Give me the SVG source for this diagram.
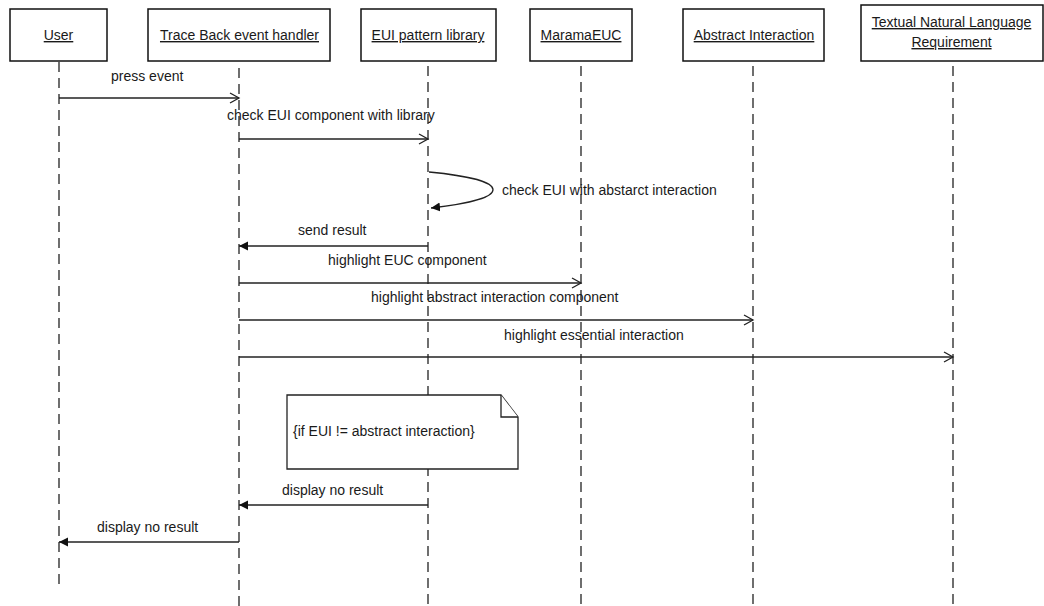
<svg xmlns="http://www.w3.org/2000/svg" width="1044" height="606" viewBox="0 0 1044 606">
  <style>
    text { font-family: "Liberation Sans", Arial, sans-serif; font-size: 14px; fill: #1a1a1a; }
    .head { text-anchor: middle; text-decoration: underline; }
    .box { fill: #ffffff; stroke: #111111; stroke-width: 1.5; }
    .life { stroke: #222222; stroke-width: 1.3; stroke-dasharray: 10 6; fill: none; }
    .msg { stroke: #222222; stroke-width: 1.3; fill: none; }
    .call { marker-end: url(#open); }
    .ret { marker-end: url(#solid); }
    .note { fill: #ffffff; stroke: #222222; stroke-width: 1.3; }
  </style>
  <defs>
    <marker id="open" markerUnits="userSpaceOnUse" markerWidth="12" markerHeight="12" refX="10" refY="6" orient="auto">
      <path d="M1,1 L10,6 L1,11" fill="none" stroke="#222222" stroke-width="1.3"/>
    </marker>
    <marker id="solid" markerUnits="userSpaceOnUse" markerWidth="10" markerHeight="10" refX="9" refY="5" orient="auto">
      <path d="M0,0.5 L9,5 L0,9.5 Z" fill="#111111"/>
    </marker>
  </defs>
  <rect width="1044" height="606" fill="#ffffff"/>

  <!-- lifeline heads and their dashed lines -->
  <g id="user">
    <rect class="box" x="10" y="9" width="97" height="52"/>
    <text class="head" x="58.5" y="40">User</text>
    <line class="life" x1="59" y1="62" x2="59" y2="590"/>
  </g>
  <g id="trace-back-handler">
    <rect class="box" x="148" y="9" width="182" height="52"/>
    <text class="head" x="239.5" y="40">Trace Back event handler</text>
    <line class="life" x1="239" y1="68" x2="239" y2="606"/>
  </g>
  <g id="eui-pattern-library">
    <rect class="box" x="361" y="9" width="135" height="52"/>
    <text class="head" x="428" y="40">EUI pattern library</text>
    <line class="life" x1="428" y1="66" x2="428" y2="606"/>
  </g>
  <g id="marama-euc">
    <rect class="box" x="530" y="9" width="102" height="52"/>
    <text class="head" x="581" y="40">MaramaEUC</text>
    <line class="life" x1="581" y1="66" x2="581" y2="606"/>
  </g>
  <g id="abstract-interaction">
    <rect class="box" x="683" y="9" width="141" height="52"/>
    <text class="head" x="754" y="40">Abstract Interaction</text>
    <line class="life" x1="753" y1="66" x2="753" y2="606"/>
  </g>
  <g id="textual-requirement">
    <rect class="box" x="861" y="5" width="182" height="56"/>
    <text class="head" x="951.5" y="27">Textual Natural Language</text>
    <text class="head" x="951.5" y="47">Requirement</text>
    <line class="life" x1="953" y1="66" x2="953" y2="606"/>
  </g>

  <!-- condition note -->
  <g id="note-condition">
    <path class="note" d="M287,395 H501 L518,417 V469 H287 Z"/>
    <path class="note" d="M501,395 V417 H518" fill="none"/>
    <text x="293" y="436">{if EUI != abstract interaction}</text>
  </g>

  <!-- messages -->
  <g id="messages">
    <line class="msg call" x1="59" y1="98" x2="239" y2="98"/>
    <text x="111" y="81">press event</text>

    <line class="msg call" x1="239" y1="139" x2="428" y2="139"/>
    <text x="227" y="120">check EUI component with library</text>

    <path class="msg ret" d="M429,172 C514,180 514,199 431,208"/>
    <text x="502" y="195">check EUI with abstarct interaction</text>

    <line class="msg ret" x1="428" y1="246" x2="239" y2="246"/>
    <text x="298" y="235">send result</text>

    <line class="msg call" x1="239" y1="283" x2="581" y2="283"/>
    <text x="328" y="265">highlight EUC component</text>

    <line class="msg call" x1="239" y1="320" x2="753" y2="320"/>
    <text x="371" y="302">highlight abstract interaction component</text>

    <line class="msg call" x1="239" y1="357" x2="953" y2="357"/>
    <text x="504" y="340">highlight essential interaction</text>

    <line class="msg ret" x1="428" y1="505" x2="239" y2="505"/>
    <text x="282" y="495">display no result</text>

    <line class="msg ret" x1="239" y1="542" x2="59" y2="542"/>
    <text x="97" y="532">display no result</text>
  </g>
</svg>
